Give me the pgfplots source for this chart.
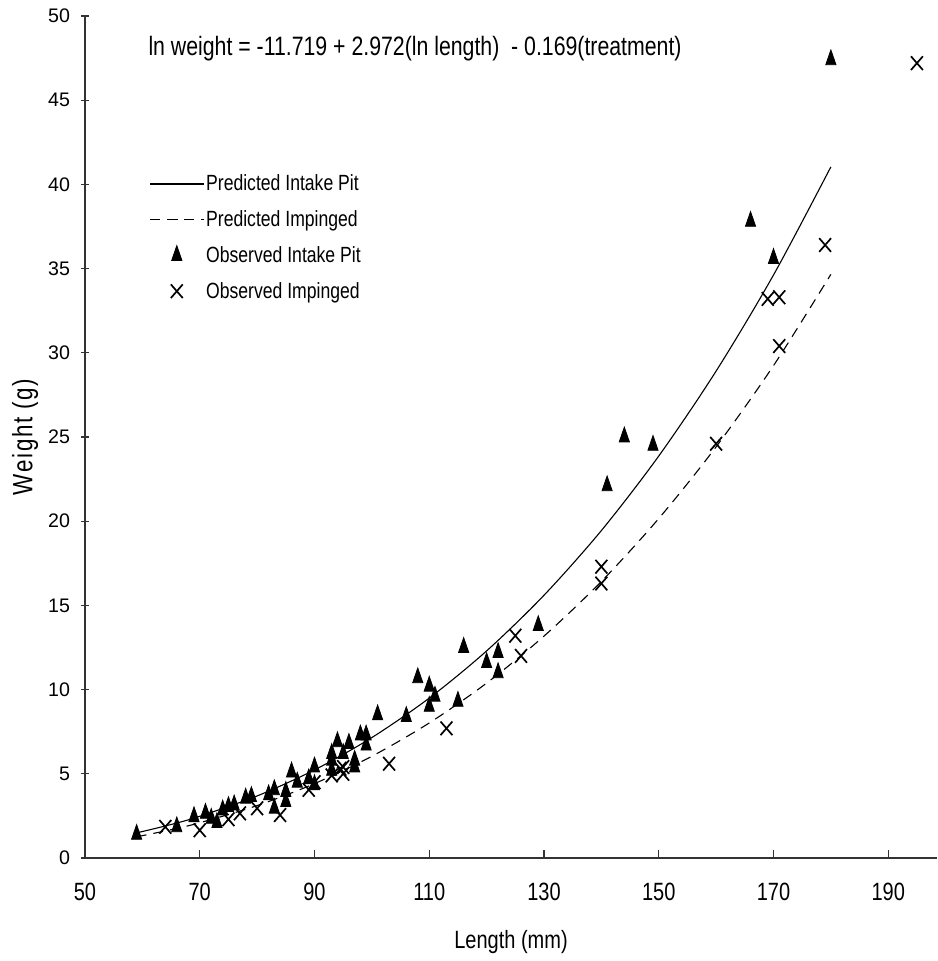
\documentclass[border=0pt]{standalone}
\usepackage{fontspec}
\setmainfont{Liberation Sans}
\newfontfamily\narrow[FakeStretch=0.8]{Liberation Sans}
\newfontfamily\narrowsp[FakeStretch=0.8, LetterSpace=6]{Liberation Sans}
\usepackage{pgfplots}
\pgfplotsset{compat=1.18}

\begin{document}
\begin{tikzpicture}
\begin{axis}[
name=ax,
scale only axis,
width=426pt, height=421pt,
xmin=50, xmax=198.5,
ymin=0, ymax=50,
xtick={50,70,...,190},
ytick={0,5,...,50},
axis lines*=left,
axis line style={-, line width=0.8pt, black!80},
major tick length=4pt,
x tick style={black!80, line width=0.6pt},
y tick style={black!80, line width=0.6pt},
xtick align=inside,
ytick align=center,
/pgf/number format/assume math mode=true,
yticklabel style={font=\fontsize{9.8}{11}\selectfont, xshift=-2pt},
xticklabel style={font=\narrow\fontsize{12.5}{14}\selectfont, yshift=-9pt},
xlabel={Length (mm)},
ylabel={Weight (g)},
xlabel style={font=\narrow\fontsize{12.5}{14}\selectfont, at={(axis description cs:0.5,-0.0998)}, anchor=center},
ylabel style={font=\narrowsp\fontsize{14}{16}\selectfont, at={(axis description cs:-0.0704,0.5)}, anchor=center},
clip=false,
legend style={at={(axis cs:61.2,40.7)}, anchor=north west, draw=none, fill=none,
  font=\narrow\fontsize{11}{13}\selectfont, row sep=6.9pt, inner sep=0pt,
  nodes={inner sep=1pt, text depth=1pt}},
legend cell align=left,
legend image code/.code={\draw[#1, mark repeat=2, mark phase=2] plot coordinates {(0pt,0pt) (13.3pt,0pt) (26.7pt,0pt)};},
]
% predicted curves
\addplot[black, line width=0.55pt, smooth] coordinates {
(59,1.491) (65,1.988) (70,2.478) (80,3.685) (90,5.230) (100,7.153) (110,9.496)
(120,12.298) (130,15.603) (140,19.444) (150,23.870) (160,28.915) (170,34.62) (180,41.04)};
\addlegendentry{Predicted Intake Pit}
\addplot[black, line width=0.55pt, smooth, dash pattern=on 5pt off 3.5pt] coordinates {
(59,1.259) (65,1.679) (70,2.093) (80,3.112) (90,4.417) (100,6.041) (110,8.019)
(120,10.386) (130,13.177) (140,16.421) (150,20.158) (160,24.419) (170,29.237) (180,34.659)};
\addlegendentry{Predicted Impinged}
% observed intake pit
\addplot[only marks, mark=triangle*, mark size=4.9pt, mark options={xscale=0.6, fill=black, draw=black}] coordinates {
(59,1.4) (66,1.85) (69,2.45) (71,2.65) (72,2.35) (73,2.1) (74,2.85) (75,3.05) (76,3.15)
(78,3.55) (79,3.65) (82,3.75) (83,4.05) (83,2.95) (85,3.95) (85,3.35) (86,5.1) (87,4.5)
(89,4.7) (90,5.4) (90,4.35) (93,6.2) (93,5.2) (93,5.8) (94,6.9) (95,6.2) (96,6.8)
(97,5.8) (97,5.4) (98,7.3) (99,7.3) (99,6.7) (101,8.5) (106,8.4) (108,10.7) (110,10.2)
(111,9.6) (110,9.0) (115,9.3) (116,12.5) (120,11.6) (122,12.2) (122,11.0) (129,13.8)
(141,22.1) (144,25.0) (149,24.5) (166,37.8) (170,35.6) (180,47.4)};
\addlegendentry{Observed Intake Pit}
% observed impinged
\addplot[only marks, mark=x, mark size=4.2pt, mark options={yscale=1.15, line width=0.85pt, draw=black}] coordinates {
(64,1.85) (70,1.65) (75,2.3) (77,2.65) (80,2.95) (84,2.55) (89,4.05) (90,4.5) (93,4.9)
(94.5,5.3) (95,5.4) (95,5.0) (103,5.6) (113,7.7) (125,13.2) (126,12.0) (140,17.3)
(140,16.3) (160,24.6) (169,33.2) (171,33.3) (171,30.4) (179,36.4) (195,47.2)};
\addlegendentry{Observed Impinged}
\node[anchor=west, font=\narrow\fontsize{13.3}{15}\selectfont, inner sep=0pt] at (axis cs:61,48.05)
  {ln weight = -11.719 + 2.972(ln length)\ \ - 0.169(treatment)};
\end{axis}
\pgfresetboundingbox
\path[use as bounding box] ([xshift=-42.5pt, yshift=-51.5pt]ax.south west) rectangle ([yshift=8pt]ax.north east);
\end{tikzpicture}
\end{document}
